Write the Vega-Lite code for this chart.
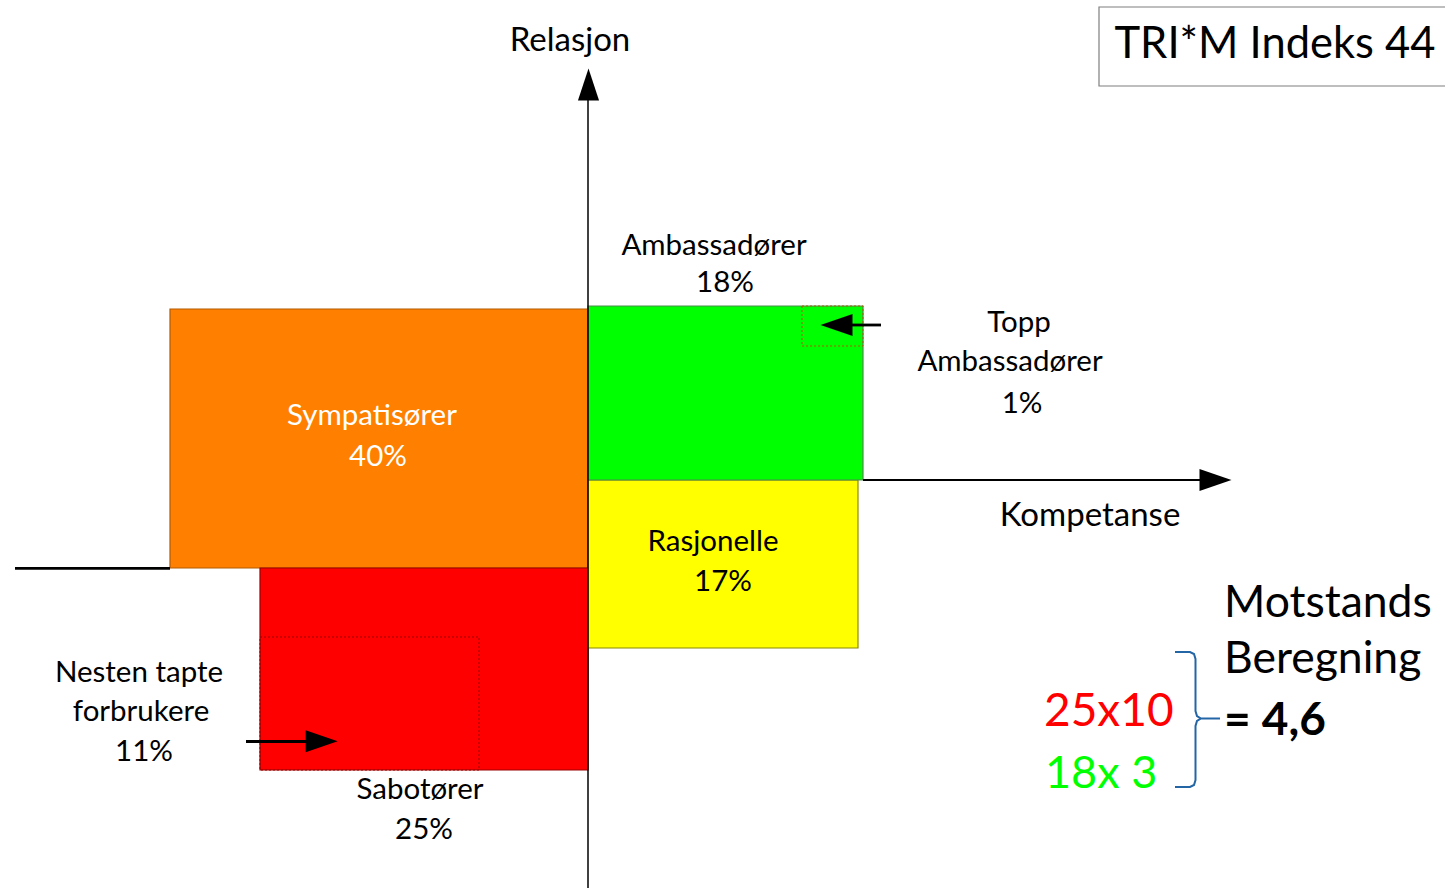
{
  "$schema": "https://vega.github.io/schema/vega-lite/v6.json",
  "width": 1445,
  "height": 888,
  "autosize": {"type": "none"},
  "padding": 0,
  "background": "white",
  "config": {"view": {"stroke": null}, "font": "Lato"},
  "datasets": {
    "segments": [
      {"seg": "Sympatisører", "x": 170, "x2": 588, "y": 309, "y2": 568},
      {"seg": "Sabotører", "x": 260, "x2": 588, "y": 568, "y2": 770},
      {"seg": "Rasjonelle", "x": 588, "x2": 858, "y": 480, "y2": 648},
      {"seg": "Ambassadører", "x": 588, "x2": 863, "y": 306, "y2": 480}
    ],
    "subsegments": [
      {"seg": "Topp Ambassadører", "x": 802, "x2": 863, "y": 306, "y2": 346},
      {"seg": "Nesten tapte forbrukere", "x": 260, "x2": 479, "y": 637, "y2": 770}
    ],
    "titlebox": [
      {"x": 1099, "x2": 1450, "y": 7, "y2": 86}
    ],
    "lines": [
      {"kind": "axis", "x": 588, "x2": 588, "y": 100, "y2": 888},
      {"kind": "axis2", "x": 863, "x2": 1202, "y": 480, "y2": 480},
      {"kind": "thick", "x": 15, "x2": 170, "y": 568.3, "y2": 568.3},
      {"kind": "thick", "x": 850, "x2": 881, "y": 325, "y2": 325},
      {"kind": "thick", "x": 246, "x2": 308, "y": 741.5, "y2": 741.5}
    ],
    "heads": [
      {"dir": "up", "x": 588.5, "y": 84.5},
      {"dir": "right", "x": 1215.5, "y": 480},
      {"dir": "left", "x": 836.5, "y": 325},
      {"dir": "right", "x": 321.7, "y": 741.3}
    ],
    "bracket": [
      {"i": 1, "x": 1175, "y": 652},
      {"i": 2, "x": 1190, "y": 652},
      {"i": 3, "x": 1194, "y": 654},
      {"i": 4, "x": 1195.5, "y": 659},
      {"i": 5, "x": 1195.5, "y": 711},
      {"i": 6, "x": 1197, "y": 716},
      {"i": 7, "x": 1201, "y": 718.5},
      {"i": 8, "x": 1220, "y": 718.5},
      {"i": 9, "x": 1201, "y": 718.5},
      {"i": 10, "x": 1197, "y": 721},
      {"i": 11, "x": 1195.5, "y": 726},
      {"i": 12, "x": 1195.5, "y": 780},
      {"i": 13, "x": 1194, "y": 785},
      {"i": 14, "x": 1190, "y": 787},
      {"i": 15, "x": 1175, "y": 787}
    ],
    "labels": [
      {"grp": "axislabel", "text": "Relasjon", "x": 570, "y": 51},
      {"grp": "label", "text": "Ambassadører", "x": 714, "y": 255},
      {"grp": "label", "text": "18%", "x": 725, "y": 292},
      {"grp": "label", "text": "Topp", "x": 1019, "y": 332},
      {"grp": "label", "text": "Ambassadører", "x": 1010, "y": 371},
      {"grp": "label", "text": "1%", "x": 1022, "y": 413},
      {"grp": "axislabel", "text": "Kompetanse", "x": 1090, "y": 526},
      {"grp": "label", "text": "Rasjonelle", "x": 713, "y": 551},
      {"grp": "label", "text": "17%", "x": 723, "y": 591},
      {"grp": "label", "text": "Nesten tapte", "x": 139, "y": 682},
      {"grp": "label", "text": "forbrukere", "x": 141, "y": 721},
      {"grp": "label", "text": "11%", "x": 144, "y": 761},
      {"grp": "label", "text": "Sabotører", "x": 420, "y": 799},
      {"grp": "label", "text": "25%", "x": 424, "y": 839},
      {"grp": "white", "text": "Sympatisører", "x": 372, "y": 425},
      {"grp": "white", "text": "40%", "x": 378, "y": 466},
      {"grp": "title", "text": "TRI*M Indeks 44", "x": 1275, "y": 58},
      {"grp": "big", "text": "Motstands", "x": 1224, "y": 617},
      {"grp": "big", "text": "Beregning", "x": 1224, "y": 673},
      {"grp": "red", "text": "25x10", "x": 1044, "y": 726},
      {"grp": "green", "text": "18x 3", "x": 1045, "y": 788},
      {"grp": "bold", "text": "= 4,6", "x": 1224, "y": 735}
    ]
  },
  "encoding": {
    "x": {"field": "x", "type": "quantitative", "scale": {"domain": [0, 1445], "nice": false, "zero": false}, "axis": null},
    "y": {"field": "y", "type": "quantitative", "scale": {"domain": [0, 888], "reverse": true, "nice": false, "zero": false}, "axis": null}
  },
  "layer": [
    {
      "data": {"name": "titlebox"},
      "mark": {"type": "rect", "fill": "white", "stroke": "#7f7f7f", "strokeWidth": 1.2},
      "encoding": {"x2": {"field": "x2"}, "y2": {"field": "y2"}}
    },
    {
      "data": {"name": "segments"},
      "mark": {"type": "rect", "strokeWidth": 1.2},
      "encoding": {
        "x2": {"field": "x2"},
        "y2": {"field": "y2"},
        "fill": {"field": "seg", "type": "nominal", "legend": null,
          "scale": {"domain": ["Sympatisører", "Sabotører", "Rasjonelle", "Ambassadører"], "range": ["#FF8000", "#FF0000", "#FFFF00", "#00FF00"]}},
        "stroke": {"field": "seg", "type": "nominal", "legend": null,
          "scale": {"domain": ["Sympatisører", "Sabotører", "Rasjonelle", "Ambassadører"], "range": ["#B35A00", "#9A0000", "#8A8A00", "#4E8A4E"]}}
      }
    },
    {
      "data": {"name": "subsegments"},
      "mark": {"type": "rect", "fillOpacity": 0, "strokeWidth": 1, "strokeDash": [2, 2]},
      "encoding": {
        "x2": {"field": "x2"},
        "y2": {"field": "y2"},
        "stroke": {"field": "seg", "type": "nominal", "legend": null,
          "scale": {"domain": ["Topp Ambassadører", "Nesten tapte forbrukere"], "range": ["#3A8F3A", "#8B0000"]}}
      }
    },
    {
      "data": {"name": "lines"},
      "transform": [{"filter": "datum.kind === 'axis'"}],
      "mark": {"type": "rule", "color": "black", "strokeWidth": 1.5},
      "encoding": {"x2": {"field": "x2"}, "y2": {"field": "y2"}}
    },
    {
      "data": {"name": "lines"},
      "transform": [{"filter": "datum.kind === 'axis2'"}],
      "mark": {"type": "rule", "color": "black", "strokeWidth": 2},
      "encoding": {"x2": {"field": "x2"}, "y2": {"field": "y2"}}
    },
    {
      "data": {"name": "lines"},
      "transform": [{"filter": "datum.kind === 'thick'"}],
      "mark": {"type": "rule", "color": "black", "strokeWidth": 2.8},
      "encoding": {"x2": {"field": "x2"}, "y2": {"field": "y2"}}
    },
    {
      "data": {"name": "heads"},
      "mark": {"type": "point", "filled": true, "color": "black", "opacity": 1, "size": 1024, "strokeWidth": 0},
      "encoding": {
        "shape": {"field": "dir", "type": "nominal", "legend": null,
          "scale": {"domain": ["up", "right", "left"], "range": ["M0,-1L0.66,1L-0.66,1Z", "M1,0L-1,0.69L-1,-0.69Z", "M-1,0L1,-0.69L1,0.69Z"]}}
      }
    },
    {
      "data": {"name": "bracket"},
      "mark": {"type": "line", "color": "#2466A5", "strokeWidth": 2},
      "encoding": {"order": {"field": "i", "type": "quantitative"}}
    },
    {
      "data": {"name": "labels"},
      "transform": [{"filter": "datum.grp === 'label'"}],
      "mark": {"type": "text", "font": "Lato", "fontSize": 29.5, "color": "black", "align": "center", "baseline": "alphabetic"},
      "encoding": {"text": {"field": "text"}}
    },
    {
      "data": {"name": "labels"},
      "transform": [{"filter": "datum.grp === 'axislabel'"}],
      "mark": {"type": "text", "font": "Lato", "fontSize": 33, "color": "black", "align": "center", "baseline": "alphabetic"},
      "encoding": {"text": {"field": "text"}}
    },
    {
      "data": {"name": "labels"},
      "transform": [{"filter": "datum.grp === 'white'"}],
      "mark": {"type": "text", "font": "Lato", "fontSize": 29.5, "color": "white", "align": "center", "baseline": "alphabetic"},
      "encoding": {"text": {"field": "text"}}
    },
    {
      "data": {"name": "labels"},
      "transform": [{"filter": "datum.grp === 'title'"}],
      "mark": {"type": "text", "font": "Lato", "fontSize": 43.5, "color": "black", "align": "center", "baseline": "alphabetic"},
      "encoding": {"text": {"field": "text"}}
    },
    {
      "data": {"name": "labels"},
      "transform": [{"filter": "datum.grp === 'big'"}],
      "mark": {"type": "text", "font": "Lato", "fontSize": 44.5, "color": "black", "align": "left", "baseline": "alphabetic"},
      "encoding": {"text": {"field": "text"}}
    },
    {
      "data": {"name": "labels"},
      "transform": [{"filter": "datum.grp === 'red'"}],
      "mark": {"type": "text", "font": "Lato", "fontSize": 46, "color": "#FF0000", "align": "left", "baseline": "alphabetic"},
      "encoding": {"text": {"field": "text"}}
    },
    {
      "data": {"name": "labels"},
      "transform": [{"filter": "datum.grp === 'green'"}],
      "mark": {"type": "text", "font": "Lato", "fontSize": 45, "color": "#00FF00", "align": "left", "baseline": "alphabetic"},
      "encoding": {"text": {"field": "text"}}
    },
    {
      "data": {"name": "labels"},
      "transform": [{"filter": "datum.grp === 'bold'"}],
      "mark": {"type": "text", "font": "Lato", "fontSize": 46, "fontWeight": "bold", "color": "black", "align": "left", "baseline": "alphabetic"},
      "encoding": {"text": {"field": "text"}}
    }
  ]
}
